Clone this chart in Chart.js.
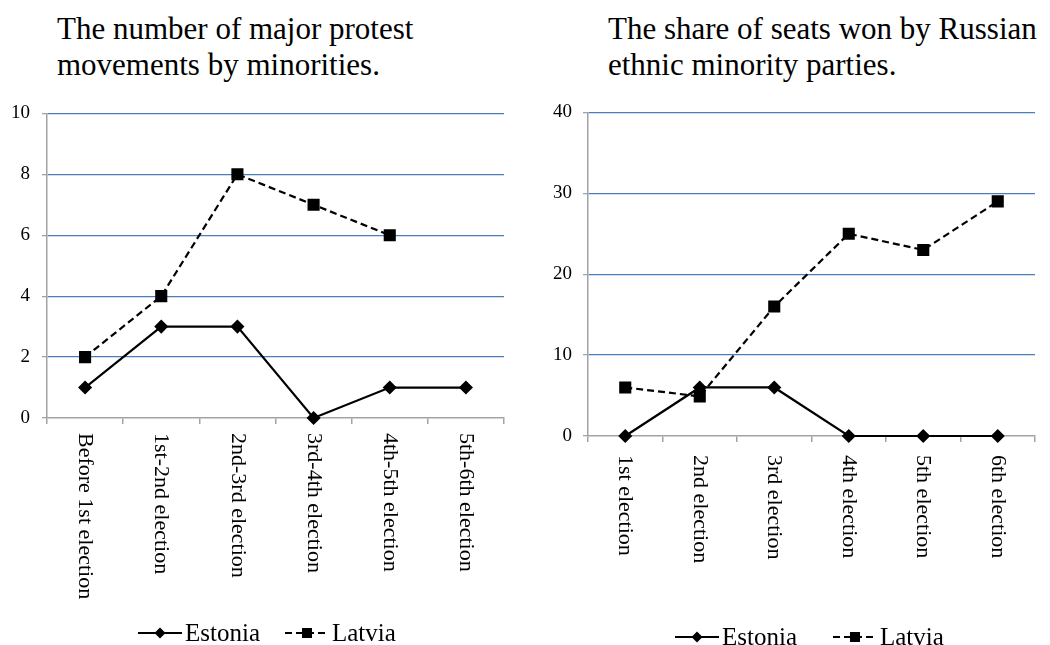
<!DOCTYPE html>
<html>
<head>
<meta charset="utf-8">
<script src="https://cdn.jsdelivr.net/npm/chart.js@4/dist/chart.umd.min.js"></script>
<style>
  body { margin: 0; background: #fff; width: 1050px; height: 645px; position: relative; overflow: hidden; font-family: 'Liberation Serif', 'Times New Roman', serif; }
  .title { position: absolute; top: 11px; font-size: 31px; line-height: 36px; white-space: nowrap; color: #000; }
  .box { position: absolute; top: 90px; width: 525px; height: 555px; }
</style>
</head>
<body>
<div class="title" style="left:57px">The number of major protest<br>movements by minorities.</div>
<div class="title" style="left:608px">The share of seats won by Russian<br>ethnic minority parties.</div>
<div class="box" style="left:0"><canvas id="protestChart"></canvas></div>
<div class="box" style="left:525px"><canvas id="seatsChart"></canvas></div>
<script>
const seriesNames = ['Estonia', 'Latvia'];

const protestLabels = ['Before 1st election', '1st-2nd election', '2nd-3rd election', '3rd-4th election', '4th-5th election', '5th-6th election'];
const protestEstonia = [1, 3, 3, 0, 1, 1];
const protestLatvia = [2, 4, 8, 7, 6, null];
const protestTicks = [0, 2, 4, 6, 8, 10];

const seatsLabels = ['1st election', '2nd election', '3rd election', '4th election', '5th election', '6th election'];
const seatsEstonia = [0, 6, 6, 0, 0, 0];
const seatsLatvia = [6, 4.9, 16, 25, 23, 29];
const seatsTicks = [0, 10, 20, 30, 40];

const gridBlue = '#4a7ebb';
const axisGray = '#a3a3a3';
const serif = 'Liberation Serif';

function drawMarker(ctx, style, x, y) {
  ctx.beginPath();
  if (style === 'rectRot') {
    ctx.moveTo(x, y - 5.5); ctx.lineTo(x + 5.5, y); ctx.lineTo(x, y + 5.5); ctx.lineTo(x - 5.5, y);
  } else {
    ctx.rect(x - 5, y - 5, 10, 10);
  }
  ctx.closePath();
  ctx.fill();
}

// rotated category labels (top-to-bottom) and the line+marker legend
function extrasPlugin(labelGap, legendY, legendX) {
  return {
    id: 'extras',
    afterDraw(chart) {
      const ctx = chart.ctx, xs = chart.scales.x, area = chart.chartArea;
      ctx.save();
      ctx.fillStyle = '#000';
      ctx.font = '22px "' + serif + '", serif';
      ctx.textAlign = 'left';
      ctx.textBaseline = 'middle';
      chart.data.labels.forEach((label, i) => {
        ctx.save();
        ctx.translate(xs.getPixelForValue(i), area.bottom + labelGap);
        ctx.rotate(Math.PI / 2);
        ctx.fillText(label, 0, 0);
        ctx.restore();
      });

      ctx.font = '25px "' + serif + '", serif';
      chart.data.datasets.forEach((ds, i) => {
        const x0 = legendX[i];
        ctx.strokeStyle = '#000';
        ctx.lineWidth = 2;
        ctx.setLineDash(ds.borderDash || []);
        ctx.beginPath();
        ctx.moveTo(x0, legendY);
        ctx.lineTo(x0 + 44, legendY);
        ctx.stroke();
        ctx.setLineDash([]);
        drawMarker(ctx, ds.pointStyle, x0 + 22, legendY);
        ctx.fillText(ds.label, x0 + 47, legendY + 1);
      });
      ctx.restore();
    }
  };
}

function makeDatasets(estonia, latvia) {
  return [{
    label: seriesNames[0],
    data: estonia,
    borderColor: '#000',
    backgroundColor: '#000',
    borderWidth: 2.2,
    pointStyle: 'rectRot',
    pointRadius: 5.5,
    tension: 0,
    clip: false
  }, {
    label: seriesNames[1],
    data: latvia,
    borderColor: '#000',
    backgroundColor: '#000',
    borderWidth: 2.2,
    borderDash: [7, 4],
    pointStyle: 'rect',
    pointRadius: 7,
    tension: 0,
    clip: false
  }];
}

function createLineChart(id, labels, estonia, latvia, ticks, axisWidth, xHeight, padding, tickPad, labelGap, legendY, legendX) {
  const ctx = document.getElementById(id).getContext('2d');
  return new Chart(ctx, {
    type: 'line',
    data: { labels: labels, datasets: makeDatasets(estonia, latvia) },
    plugins: [extrasPlugin(labelGap, legendY, legendX)],
    options: {
      responsive: true,
      maintainAspectRatio: false,
      animation: false,
      layout: { padding: padding },
      plugins: {
        legend: { display: false },
        tooltip: { enabled: false }
      },
      scales: {
        x: {
          offset: true,
          afterFit: s => { s.height = xHeight; },
          border: { color: axisGray, width: 1.5 },
          grid: { offset: true, drawOnChartArea: false, drawTicks: true, tickLength: 6, color: axisGray, lineWidth: 1.5 },
          ticks: { display: false }
        },
        y: {
          min: ticks[0],
          max: ticks[ticks.length - 1],
          afterFit: s => { s.width = axisWidth; },
          afterBuildTicks: s => { s.ticks = ticks.map(v => ({ value: v })); },
          border: { color: axisGray, width: 1.5 },
          grid: {
            color: c => (c.tick && c.tick.value === 0) ? 'rgba(0,0,0,0)' : gridBlue,
            tickColor: axisGray,
            tickLength: 5,
            lineWidth: 1.3
          },
          ticks: { padding: tickPad, color: '#000', font: { family: serif, size: 19 } }
        }
      }
    }
  });
}

createLineChart('protestChart', protestLabels, protestEstonia, protestLatvia, protestTicks,
  47, 227, { top: 16, right: 21, left: 0, bottom: 0 }, 12, 15, 543, [138, 285]);
createLineChart('seatsChart', seatsLabels, seatsEstonia, seatsLatvia, seatsTicks,
  63, 209, { top: 17, right: 15, left: 0, bottom: 0 }, 11, 19, 547, [150, 308]);
</script>
</body>
</html>
